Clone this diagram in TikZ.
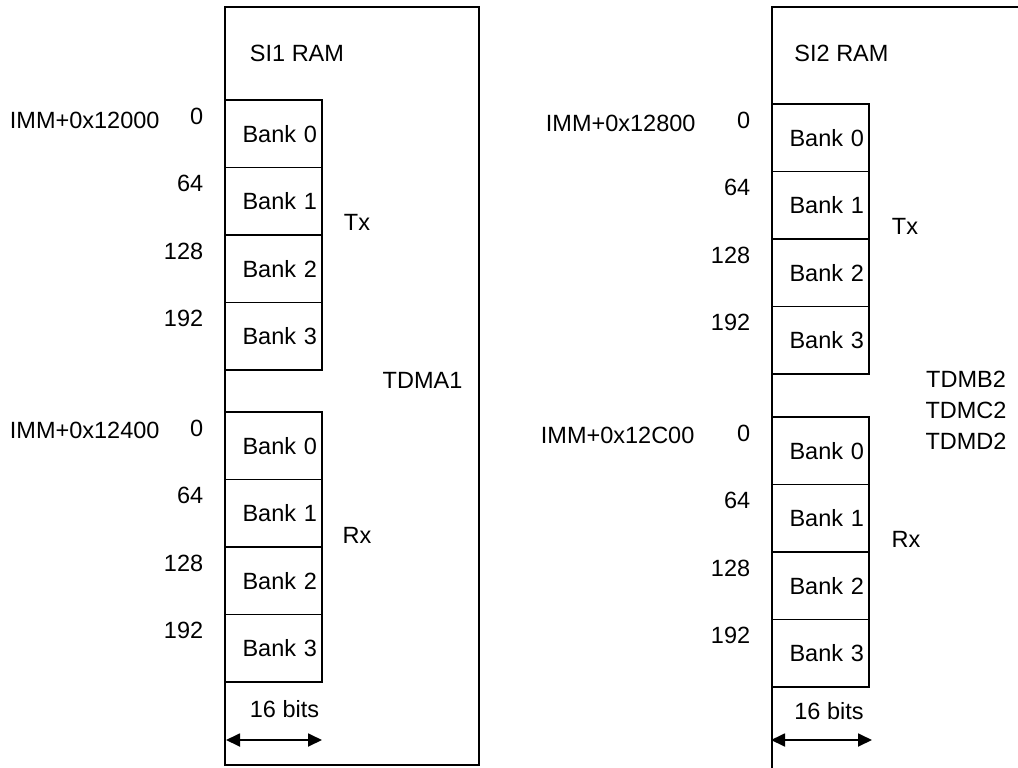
\documentclass[tikz,border=0pt]{standalone}
\usepackage{fontspec}
\setmainfont{Liberation Sans}
\usetikzlibrary{positioning,arrows.meta}

\begin{document}
\begin{tikzpicture}[
    x=1pt, y=-1pt, node distance=67.5pt, line width=1.8pt,
    >={Triangle[length=14pt,width=13pt]},
    every node/.style={font=\fontsize{23.5}{28}\selectfont},
    bank/.style={draw, minimum width=97pt, minimum height=67.5pt,
      text width=87pt, inner xsep=5pt, align=right},
    offs/.style={inner sep=0pt, left=20pt of #1, yshift=-17pt},
    addr/.style={inner sep=0pt, anchor=west}
  ]
    \useasboundingbox (0,0) rectangle (1018,768);

    % SI1 RAM
    \draw (225,7) rectangle (479,765);
    \node (si1) at (297,53) {SI1 RAM};
    \node[bank] (a0) at (273.5,133.75) {Bank 0};
    \node[bank] (a1) [below of=a0] {Bank 1};
    \node[bank] (a2) [below of=a1] {Bank 2};
    \node[bank] (a3) [below of=a2] {Bank 3};
    \node[bank] (b0) at (273.5,445.75) {Bank 0};
    \node[bank] (b1) [below of=b0] {Bank 1};
    \node[bank] (b2) [below of=b1] {Bank 2};
    \node[bank] (b3) [below of=b2] {Bank 3};
    \node[offs=a0.north west] (oa0) {0};
    \node[offs=a1.north west] (oa1) {64};
    \node[offs=a2.north west] (oa2) {128};
    \node[offs=a3.north west] (oa3) {192};
    \node[offs=b0.north west] (ob0) {0};
    \node[offs=b1.north west] (ob1) {64};
    \node[offs=b2.north west] (ob2) {128};
    \node[offs=b3.north west] (ob3) {192};
    \node[addr] (imma) at (9,120) {IMM+0x12000};
    \node[addr] (immb) at (9,430) {IMM+0x12400};
    \node (txa) at (357,222) {Tx};
    \node (rxa) at (357,535) {Rx};
    \node (tdma1) at (422.5,380) {TDMA1};
    \node (bitsa) at (284.5,709) {16 bits};
    \coordinate (wa1) at (226,740);
    \coordinate (wa2) at (322,740);
    \draw[<->] (wa1) -- (wa2);

    % SI2 RAM
    \draw (1018,7) -- (772,7) -- (772,768);
    \node (si2) at (841.5,53) {SI2 RAM};
    \node[bank] (c0) at (820.5,137.75) {Bank 0};
    \node[bank] (c1) [below of=c0] {Bank 1};
    \node[bank] (c2) [below of=c1] {Bank 2};
    \node[bank] (c3) [below of=c2] {Bank 3};
    \node[bank] (d0) at (820.5,450.75) {Bank 0};
    \node[bank] (d1) [below of=d0] {Bank 1};
    \node[bank] (d2) [below of=d1] {Bank 2};
    \node[bank] (d3) [below of=d2] {Bank 3};
    \node[offs=c0.north west] (oc0) {0};
    \node[offs=c1.north west] (oc1) {64};
    \node[offs=c2.north west] (oc2) {128};
    \node[offs=c3.north west] (oc3) {192};
    \node[offs=d0.north west] (od0) {0};
    \node[offs=d1.north west] (od1) {64};
    \node[offs=d2.north west] (od2) {128};
    \node[offs=d3.north west] (od3) {192};
    \node[addr] (immc) at (545,123) {IMM+0x12800};
    \node[addr] (immd) at (540,435) {IMM+0x12C00};
    \node (txc) at (905,226) {Tx};
    \node (rxd) at (906,539) {Rx};
    \node (tdmb2) at (966,379) {TDMB2};
    \node (tdmc2) at (966,410) {TDMC2};
    \node (tdmd2) at (966,441) {TDMD2};
    \node (bitsc) at (829,711) {16 bits};
    \coordinate (wc1) at (771,740);
    \coordinate (wc2) at (872,740);
    \draw[<->] (wc1) -- (wc2);
\end{tikzpicture}
\end{document}
